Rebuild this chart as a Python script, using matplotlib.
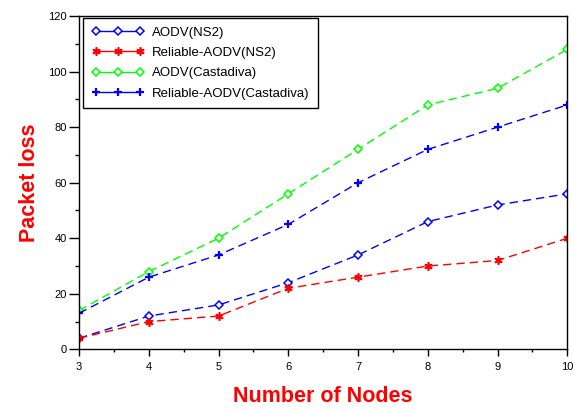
import matplotlib
matplotlib.use("Agg")
import matplotlib.pyplot as plt
from matplotlib.ticker import MultipleLocator

plt.rcParams['font.family'] = ['Liberation Sans', 'DejaVu Sans']

nodes = [3, 4, 5, 6, 7, 8, 9, 10]
aodv_ns2 = [4, 12, 16, 24, 34, 46, 52, 56]
rel_aodv_ns2 = [4, 10, 12, 22, 26, 30, 32, 40]
aodv_cast = [14, 28, 40, 56, 72, 88, 94, 108]
rel_aodv_cast = [13, 26, 34, 45, 60, 72, 80, 88]
labels = ["AODV(NS2)", "Reliable-AODV(NS2)", "AODV(Castadiva)", "Reliable-AODV(Castadiva)"]

fig = plt.figure(figsize=(5.73, 4.12), dpi=100)
ax = fig.add_axes([0.138, 0.152, 0.852, 0.809])

dash = (6, 3.6)
ax.plot(nodes, aodv_ns2, color='#0000ff', ls=(0, dash), lw=1, marker='D', ms=3.8,
        mfc='white', mec='#0000ff', mew=1.1, label=labels[0])
ax.plot(nodes, rel_aodv_ns2, color='#ff0000', ls=(0, dash), lw=1, marker=(6, 2, 0), ms=6,
        mfc='#ff0000', mec='#ff0000', mew=1.2, label=labels[1])
ax.plot(nodes, aodv_cast, color='#00ff00', ls=(0, dash), lw=1, marker='D', ms=3.8,
        mfc='white', mec='#00ff00', mew=1.1, label=labels[2])
ax.plot(nodes, rel_aodv_cast, color='#0000ff', ls=(0, dash), lw=1, marker='+', ms=5.5,
        mec='#0000ff', mew=1.6, label=labels[3])

ax.set_xlim(3, 10)
ax.set_ylim(0, 120)
ax.xaxis.set_major_locator(MultipleLocator(1))
ax.xaxis.set_minor_locator(MultipleLocator(0.5))
ax.yaxis.set_major_locator(MultipleLocator(20))
ax.yaxis.set_minor_locator(MultipleLocator(10))
ax.tick_params(axis='x', which='major', direction='out', length=5, width=1, labelsize=8, pad=4)
ax.tick_params(axis='x', which='minor', direction='out', length=2.5, width=1)
ax.tick_params(axis='y', which='major', direction='out', length=7, width=1, labelsize=8, pad=2)
ax.tick_params(axis='y', which='minor', direction='out', length=3, width=1)
for s in ax.spines.values():
    s.set_linewidth(1)

ax.set_xlabel("Number of Nodes", color='#ff0000', fontsize=15.5, fontweight='bold', labelpad=10)
ax.set_ylabel("Packet loss", color='#ff0000', fontsize=15.5, fontweight='bold', labelpad=6)

leg = ax.legend(loc='upper left', bbox_to_anchor=(0.008, 0.995), borderaxespad=0,
                fontsize=9.5, numpoints=3, handlelength=4.0, handletextpad=0.6,
                frameon=True, fancybox=False, edgecolor='black', framealpha=1,
                labelspacing=0.62, borderpad=0.65)
leg.get_frame().set_linewidth(1)
for line in leg.get_lines():
    line.set_linestyle('-')

fig.savefig("out.png", dpi=100)
